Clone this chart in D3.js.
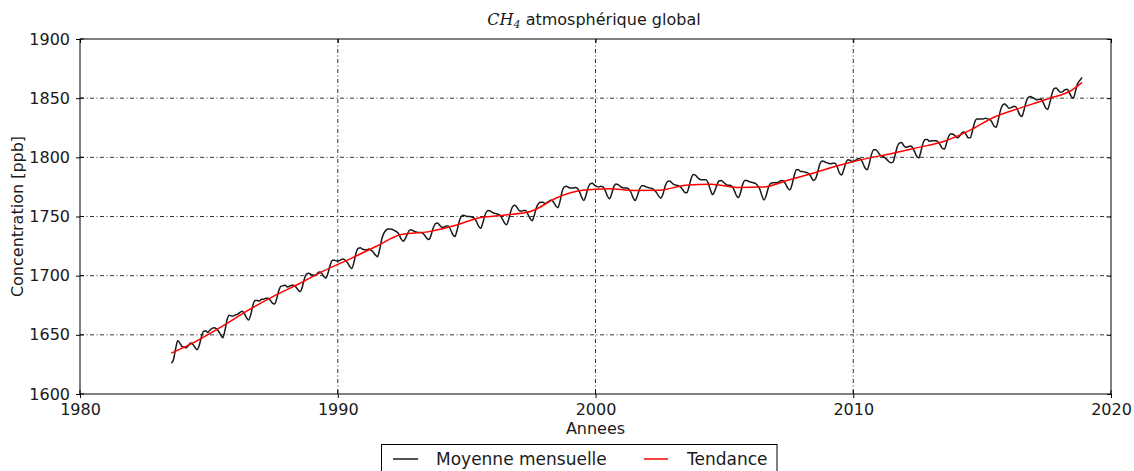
<!DOCTYPE html>
<html><head><meta charset="utf-8">
<script src="https://cdn.jsdelivr.net/npm/d3@7/dist/d3.min.js"></script>
<style>
body{margin:0;background:#fff;}
svg{display:block;font-family:"DejaVu Sans",sans-serif;}
</style></head>
<body>
<svg id="c" width="1134" height="471"></svg>
<script>
// ---- data ----
const startYear = 1983, startMonth = 7; // first monthly value: July 1983
const monthlyCH4 = [
// 1983 (Jul-Dec)
1626,1629,1638,1645,1643,1640,
// 1984
1639.5,1639,1641,1643,1642,1639.5,1637.5,1641,1648,1653,1653.5,1652,
// 1985
1654,1655.5,1656,1655,1653,1650,1647.5,1654,1663,1666.5,1666,1666,
// 1986
1667,1667.5,1669,1670,1668,1664.5,1662.5,1667,1675,1679,1679,1678.5,
// 1987
1680,1680,1681,1681,1679.5,1677,1676,1680,1687,1691,1691.5,1692,
// 1988
1690.5,1691,1692,1692,1690.5,1688,1686.5,1690.5,1697.5,1701.5,1702,1701,
// 1989
1700.5,1700,1702,1703,1702,1699.5,1698,1702.5,1709,1713,1713,1712.5,
// 1990
1712.5,1713.5,1714,1713,1711,1708,1706,1711,1719,1723,1723.5,1722.5,
// 1991
1722,1722,1722.5,1721.5,1720,1717.5,1716,1722,1731,1736,1738.5,1739.5,
// 1992
1739.5,1739,1738,1737,1735,1731,1729,1731.5,1735.5,1738.5,1738.5,1737.5,
// 1993
1737,1736.5,1736.5,1736,1734,1731.5,1730.5,1734.5,1740.5,1744,1744.5,1742.5,
// 1994
1741,1741,1742,1742,1739,1735,1733,1738,1745.5,1750,1751,1750.5,
// 1995
1750,1750,1749.5,1748.5,1746,1742,1740,1744.5,1751,1754.5,1755,1754,
// 1996
1753,1752.5,1752,1751,1748.5,1745,1743,1747,1754,1758.5,1759.5,1757.5,
// 1997
1755,1754.5,1755,1755,1752,1748.5,1746.5,1751,1757.5,1761,1762,1762,
// 1998
1761,1762,1763,1764,1762,1759,1757.5,1763,1771.5,1775,1775.5,1774.5,
// 1999
1774,1774,1774.5,1774,1771,1766.5,1763.5,1767.5,1774,1777.5,1778,1776.5,
// 2000
1775.5,1775,1775.5,1775,1772,1767.5,1765,1769,1775,1777.5,1777,1775.5,
// 2001
1774.5,1774,1774,1773,1770.5,1766,1763.5,1767.5,1773,1776,1776,1775,
// 2002
1774.5,1774,1773.5,1772,1770,1767,1765.5,1769.5,1776,1779.5,1780,1778.5,
// 2003
1777,1776.5,1776,1775,1773,1770.5,1770,1775,1782,1785.5,1785,1783,
// 2004
1781.5,1781,1781,1781,1778,1772.5,1768.5,1771.5,1776.5,1780,1780.5,1779,
// 2005
1777.5,1776.5,1776.5,1775.5,1772.5,1768,1766,1770,1777,1780.5,1780.5,1779.5,
// 2006
1779,1778.5,1778,1776,1773,1767.5,1764,1768,1774.5,1778,1778.5,1778.5,
// 2007
1778.5,1779.5,1780.5,1780,1777.5,1774,1772.5,1777,1784.5,1789.5,1789.5,1788,
// 2008
1788,1787.5,1787,1786,1783,1780.5,1782,1788,1794.5,1797,1796.5,1795.5,
// 2009
1795,1794.5,1795,1795,1792,1787,1785,1789,1795,1798,1797.5,1796.5,
// 2010
1797,1798,1799,1798.5,1795,1791,1789.5,1795,1802.5,1806.5,1806.5,1804.5,
// 2011
1802,1801,1800,1798.5,1796.5,1795.5,1796,1802,1809,1812,1812.5,1810,
// 2012
1808.5,1809,1809.5,1808.5,1805,1801,1799.5,1805,1812,1815,1815,1813.5,
// 2013
1814,1814,1814,1813,1810.5,1807.5,1807,1812.5,1818,1820,1819.5,1818,
// 2014
1816.5,1818,1820.5,1821.5,1819.5,1816.5,1816.5,1822.5,1829.5,1832.5,1832.5,1832.5,
// 2015
1832.5,1833,1832.5,1832,1830,1826.5,1825.5,1831.5,1839.5,1844,1845,1843.5,
// 2016
1841.5,1842,1843,1843,1840,1836,1834.5,1840,1847,1850.5,1851.5,1850.5,
// 2017
1849.5,1848.5,1849,1849,1846,1842,1840.5,1846,1853.5,1858,1858.5,1856.5,
// 2018 (Jan-Nov)
1855,1855.5,1857,1857.5,1855,1851.5,1850,1856,1862.5,1865,1867.5
];
const trendYears = [1983.54,1984.5,1985.5,1986.5,1987.5,1988.5,1989.5,1990.5,1991.5,1992.5,1993.5,1994.5,1995.5,1996.5,1997.5,1998.5,1999.5,2000.5,2001.5,2002.5,2003.5,2004.5,2005.5,2006.5,2007.5,2008.5,2009.5,2010.5,2011.5,2012.5,2013.5,2014.5,2015.5,2016.5,2017.5,2018.5,2018.88];
const trendValues = [1634.5,1644.5,1657.0,1670.4,1682.5,1693.2,1704.5,1714.4,1724.9,1735.0,1737.0,1742.1,1748.9,1751.2,1754.4,1765.9,1772.1,1773.5,1772.0,1772.2,1776.5,1777.3,1774.5,1774.9,1780.8,1787.0,1793.5,1798.9,1803.2,1808.2,1813.4,1822.6,1834.3,1841.8,1849.1,1857.1,1863.3];
const xTicks = [1980,1990,2000,2010,2020];
const yTicks = [1600,1650,1700,1750,1800,1850,1900];
const titleMain = "CH", titleSub = "4", titleRest = " atmosphérique global";
const xLabel = "Annees", yLabel = "Concentration [ppb]";
const legendLabels = ["Moyenne mensuelle","Tendance"];
const seriesColors = ["#1a1a1a","#ff0000"];

// ---- chart ----
const L=80, R=1111, T=39, B=394;
const svg = d3.select("#c");
const x = d3.scaleLinear().domain([1980,2020]).range([L,R]);
const y = d3.scaleLinear().domain([1600,1900]).range([B,T]);

const monthly = monthlyCH4.map((v,i)=>{
  const m = startMonth - 1 + i;
  return {t: startYear + Math.floor(m/12) + ((m%12)+0.5)/12, v};
});
const trend = trendYears.map((t,i)=>({t, v: trendValues[i]}));

// grid
const g = svg.append("g");
const dash = "4,2.5,1,2.5";
g.selectAll(".gx").data(xTicks.slice(1,-1)).join("line")
  .attr("x1",d=>x(d)).attr("x2",d=>x(d)).attr("y1",T).attr("y2",B)
  .attr("stroke","#000").attr("stroke-width",0.8).attr("stroke-dasharray",dash);
g.selectAll(".gy").data(yTicks.slice(1,-1)).join("line")
  .attr("y1",d=>y(d)).attr("y2",d=>y(d)).attr("x1",L).attr("x2",R)
  .attr("stroke","#000").attr("stroke-width",0.8).attr("stroke-dasharray",dash);

// lines
const line = d3.line().x(d=>x(d.t)).y(d=>y(d.v));
svg.append("path").datum(monthly).attr("d",line.curve(d3.curveMonotoneX))
  .attr("fill","none").attr("stroke",seriesColors[0]).attr("stroke-width",1.5);
svg.append("path").datum(trend).attr("d",d3.line().x(d=>x(d.t)).y(d=>y(d.v)).curve(d3.curveMonotoneX))
  .attr("fill","none").attr("stroke",seriesColors[1]).attr("stroke-width",1.5);

// axes
const axB = svg.append("g").attr("transform",`translate(0,${B})`)
  .call(d3.axisBottom(x).tickValues(xTicks).tickFormat(d3.format("d")).tickSizeInner(4).tickSizeOuter(0).tickPadding(6));
const axL = svg.append("g").attr("transform",`translate(${L},0)`)
  .call(d3.axisLeft(y).tickValues(yTicks).tickFormat(d3.format("d")).tickSizeInner(4).tickSizeOuter(0).tickPadding(6));
const axT = svg.append("g").attr("transform",`translate(0,${T})`)
  .call(d3.axisTop(x).tickValues(xTicks).tickFormat("").tickSizeInner(-4).tickSizeOuter(0));
const axR = svg.append("g").attr("transform",`translate(${R},0)`)
  .call(d3.axisRight(y).tickValues(yTicks).tickFormat("").tickSizeInner(-4).tickSizeOuter(0));
[axB,axL,axT,axR].forEach(a=>{
  a.select(".domain").remove();
  a.selectAll("text").attr("font-size",16).attr("font-family","DejaVu Sans").attr("fill","#1a1a1a");
  a.selectAll("line").attr("stroke","#000");
});
// inward part of ticks
svg.append("g").selectAll("line").data(xTicks).join("line")
  .attr("x1",d=>x(d)).attr("x2",d=>x(d)).attr("y1",B).attr("y2",B-4).attr("stroke","#000");
svg.append("g").selectAll("line").data(yTicks).join("line")
  .attr("y1",d=>y(d)).attr("y2",d=>y(d)).attr("x1",L).attr("x2",L+4).attr("stroke","#000");
// frame
svg.append("rect").attr("x",L).attr("y",T).attr("width",R-L).attr("height",B-T)
  .attr("fill","none").attr("stroke","#000").attr("stroke-width",1);

// labels
svg.append("text").attr("x",(L+R)/2).attr("y",434).attr("text-anchor","middle")
  .attr("font-size",16).attr("fill","#1a1a1a").text(xLabel);
svg.append("text").attr("transform",`translate(23,${(T+B)/2}) rotate(-90)`).attr("text-anchor","middle")
  .attr("font-size",16).attr("fill","#1a1a1a").text(yLabel);
const tt = svg.append("text").attr("x",594).attr("y",25).attr("text-anchor","middle").attr("font-size",16).attr("fill","#1a1a1a");
tt.append("tspan").attr("font-family","DejaVu Serif").attr("font-style","italic").text(titleMain);
tt.append("tspan").attr("font-family","DejaVu Serif").attr("font-style","italic").attr("font-size",11).attr("dy",3).text(titleSub);
tt.append("tspan").attr("dy",-3).text(titleRest);

// legend
const lg = svg.append("g");
lg.append("rect").attr("x",381.5).attr("y",444.5).attr("width",395.5).attr("height",40)
  .attr("fill","#fff").attr("stroke","#000").attr("stroke-width",1);
const items = [{x1:393,x2:418,tx:436},{x1:644,x2:668,tx:687}];
items.forEach((it,i)=>{
  lg.append("line").attr("x1",it.x1).attr("x2",it.x2).attr("y1",459).attr("y2",459)
    .attr("stroke",seriesColors[i]).attr("stroke-width",1.5);
  lg.append("text").attr("x",it.tx).attr("y",465).attr("font-size",17).attr("fill","#1a1a1a").text(legendLabels[i]);
});
</script>
</body></html>
